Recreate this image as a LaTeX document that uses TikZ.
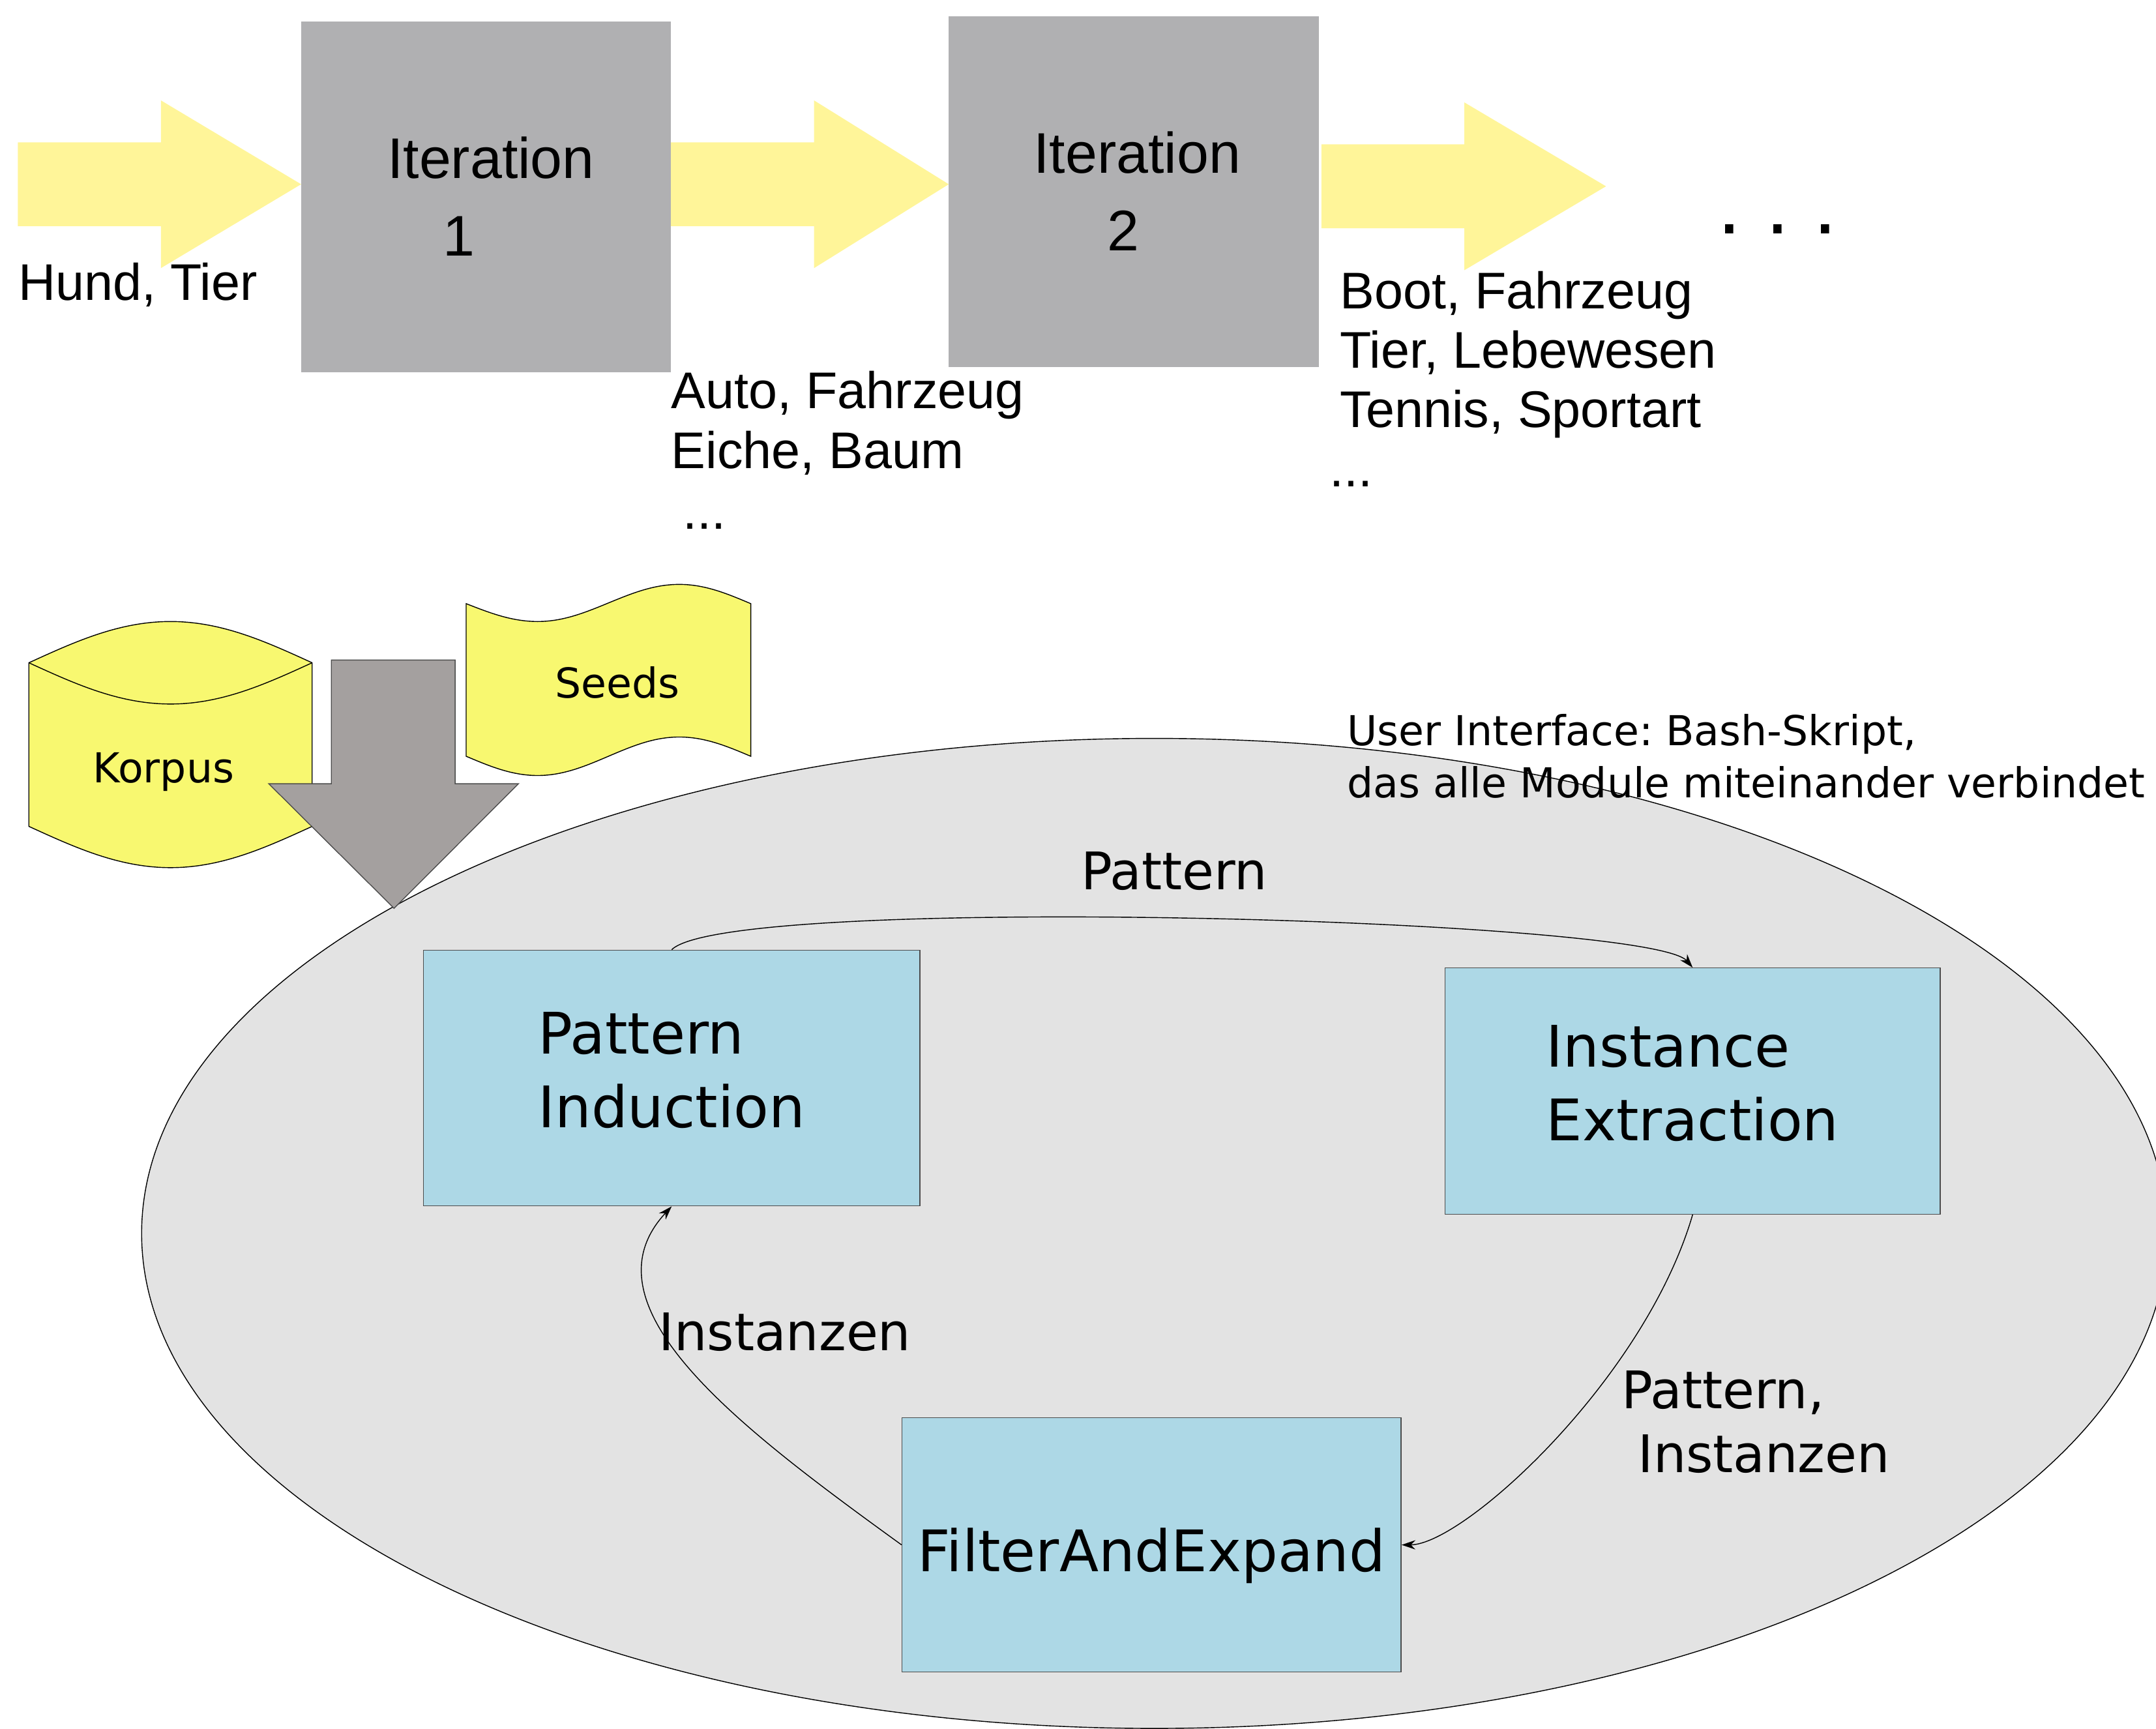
\documentclass[tikz,border=0pt]{standalone}
\usepackage{fontspec}
\usetikzlibrary{arrows.meta}
\newfontfamily\topfont{Liberation Sans}
\newfontfamily\modfont{DejaVu Sans}
\newcommand{\dpx}{0.02109cm}
\definecolor{pale}{RGB}{255,245,153}
\definecolor{itgray}{RGB}{176,176,178}
\definecolor{dbyellow}{RGB}{248,248,112}
\definecolor{downgray}{RGB}{164,160,159}
\definecolor{loopgray}{RGB}{227,227,227}
\definecolor{modblue}{RGB}{173,216,230}
\frenchspacing

\begin{document}
\begin{tikzpicture}[x=\dpx,y=-\dpx,
  itbox/.style={fill=itgray,minimum width=269*\dpx,minimum height=255*\dpx,inner sep=0pt},
  toptext/.style={font=\topfont\fontsize{22.5}{26}\selectfont,inner sep=0pt,align=left},
  ittext/.style={font=\topfont\fontsize{25}{30}\selectfont,inner sep=0pt},
  module/.style={draw=black!70,fill=modblue,line width=0.4pt,inner sep=0pt,align=left,font=\modfont\fontsize{25}{32}\selectfont},
  flow/.style={font=\modfont\fontsize{22.6}{28}\selectfont,inner sep=0pt,align=left},
  small/.style={font=\modfont\fontsize{18}{22.7}\selectfont,inner sep=0pt,align=left},
  conn/.style={draw,line width=0.4pt,-{Stealth[length=6pt,width=4pt]}}]

\useasboundingbox (0,0) rectangle (1568,1257);

\foreach \x/\y/\l in {13/134/206,488/134/202,961/135.5/207}
  \fill[pale] (\x,{\y-30.5}) -- ({\x+104},{\y-30.5}) -- ({\x+104},{\y-61}) -- ({\x+\l},\y)
    -- ({\x+104},{\y+61}) -- ({\x+104},{\y+30.5}) -- (\x,{\y+30.5}) -- cycle;

\node[itbox] (it1) at (353.5,143) {};
\node[itbox] (it2) at (824.5,139.3) {};
\node[ittext,anchor=base] (it1a) at (357,129.5) {Iteration};
\node[ittext,anchor=base] (it1b) at (334,186) {1};
\node[ittext,anchor=base] (it2a) at (827,126) {Iteration};
\node[ittext,anchor=base] (it2b) at (817,182.5) {2};

\node[toptext,anchor=base west] (seed0) at (13,218.5) {Hund, Tier};
\node[toptext,anchor=base west] (out1) at (488,340.5) {Auto, Fahrzeug\\Eiche, Baum};
\node[toptext,anchor=base west] (more1) at (496.5,384.7) {...};
\node[toptext,anchor=base west] (out2) at (974.3,311) {Boot, Fahrzeug\\Tier, Lebewesen\\Tennis, Sportart};
\node[toptext,anchor=base west] (more2) at (966.5,354) {...};
\node[font=\topfont\fontsize{37.5}{40}\selectfont,inner sep=0pt,anchor=base west] (more) at (1249,170) {.\ .\ .};

\draw[fill=loopgray,line width=0.4pt] (839.5,897) ellipse [x radius=736.5*\dpx,y radius=360*\dpx];

\draw[fill=dbyellow,line width=0.4pt] (21,482) sin (124,452) cos (227,482) -- (227,601)
  sin (124,631) cos (21,601) -- cycle;
\draw[line width=0.4pt] (21,482) sin (124,512) cos (227,482);
\draw[fill=dbyellow,line width=0.4pt] (339,439) sin (391,452) cos (442.5,438.5) sin (494,425)
  cos (546,439) -- (546,550) sin (494,536) cos (442.5,550) sin (391,564) cos (339,550) -- cycle;
\draw[fill=downgray,draw=black!70,line width=0.4pt] (241,480) -- (331,480) -- (331,570) -- (377,570)
  -- (286.6,660.6) -- (195.5,570) -- (241,570) -- cycle;

\node[small,anchor=base] (korpus) at (119,569) {Korpus};
\node[small,anchor=base] (seeds) at (449,507.4) {Seeds};
\node[small,anchor=base west] (ui) at (979.5,580) {User Interface: Bash-Skript,\\das alle Module miteinander verbindet};

\node[module,minimum width=361*\dpx,minimum height=186*\dpx,text depth=7.2pt] (pi) at (488.5,784) {Pattern\\Induction};
\node[module,minimum width=360*\dpx,minimum height=179*\dpx,text depth=7.2pt] (ie) at (1231,793.5) {Instance\\Extraction};
\node[module,minimum width=363*\dpx,minimum height=185*\dpx,text height=23.4pt,text depth=0pt] (fae) at (837.5,1123.5) {FilterAndExpand};

\draw[conn] (pi.north) .. controls +(41.5,-41) and +(-31,-36) .. (ie.north);
\draw[conn] (ie.south) .. controls +(-35,120) and +(45,0) .. (fae.east);
\draw[conn] (fae.west) .. controls +(-116,-84) and +(-68,73) .. (pi.south);

\node[flow,anchor=base] (lpat) at (854,647) {Pattern};
\node[flow,anchor=base west] (linst) at (479,982) {Instanzen};
\node[flow,anchor=base west] (lboth) at (1179,1071) {Pattern,\\\mbox{}\ Instanzen};
\end{tikzpicture}
\end{document}
